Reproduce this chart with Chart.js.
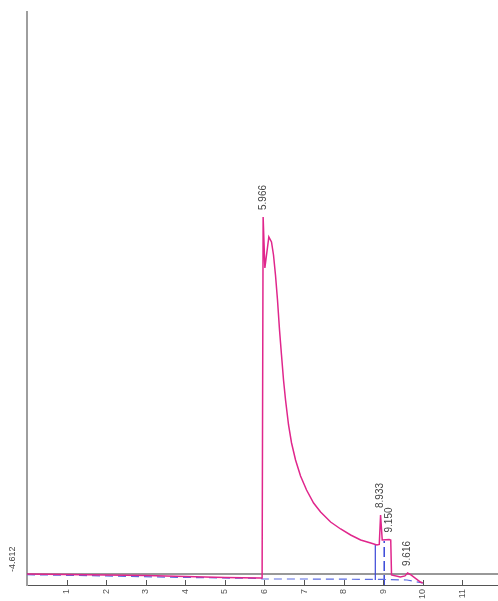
<!DOCTYPE html>
<html>
<head>
<meta charset="utf-8">
<script src="https://cdn.jsdelivr.net/npm/chart.js@4.4.1/dist/chart.umd.min.js"></script>
<style>
  html, body { margin: 0; padding: 0; background: #ffffff; }
  #wrap { width: 498px; height: 601px; }
</style>
</head>
<body>
<div id="wrap"><canvas id="chrom"></canvas></div>
<script>
// Retention time axis (min) and detector signal (mV)
const xTicks = [1, 2, 3, 4, 5, 6, 7, 8, 9, 10, 11];
const yMin = -6.812;
const yMax = 107.788;
const baselineLevel = -4.612;

// Main signal trace
const signalTime = [0, 1, 2, 3, 4, 5, 5.9, 5.94, 5.966, 6.01, 6.11, 6.177, 6.228, 6.278, 6.329, 6.38, 6.43, 6.481, 6.532, 6.608, 6.684, 6.785, 6.911, 7.063, 7.241, 7.418, 7.671, 7.924, 8.177, 8.43, 8.684, 8.84, 8.9, 8.933, 8.975, 9.15, 9.19, 9.21, 9.43, 9.55, 9.616, 9.7, 9.94, 10.0];
const signalValue = [-4.61, -4.71, -4.81, -4.91, -5.11, -5.31, -5.41, -5.41, 66.79, 56.59, 62.79, 61.79, 59.19, 55.19, 50.19, 44.19, 39.19, 34.19, 30.19, 25.19, 21.59, 18.19, 14.99, 12.19, 9.59, 7.79, 5.79, 4.39, 3.19, 2.19, 1.59, 1.19, 1.3, 7.19, 2.19, 2.29, 2.19, -4.81, -5.21, -5.0, -4.41, -4.8, -6.21, -6.41];

// Integration baseline
const baseTime = [0, 2, 4, 5.9, 5.95, 7, 8, 9, 9.6, 10.0];
const baseValue = [-4.75, -5.0, -5.3, -5.5, -5.61, -5.61, -5.65, -5.7, -5.81, -6.41];

// Peak boundary markers
const markStartTime = [8.8, 8.8];
const markStartValue = [-5.81, 1.25];
const markEndTime = [9.025, 9.025];
const markEndValue = [-6.81, 1.99];

// Labelled peaks (retention times)
const peakTimes = [5.966, 8.933, 9.150, 9.616];
const peakNames = ['5.966', '8.933', '9.150', '9.616'];

const toPoints = (xs, ys) => xs.map((x, i) => ({ x: x, y: ys[i] }));

const annotate = {
  id: 'annotate',
  afterDatasetsDraw(chart) {
    const ctx = chart.ctx;
    const xs = chart.scales.x;
    const ys = chart.scales.y;
    const area = chart.chartArea;
    ctx.save();
    // inward tick marks on the time axis
    ctx.strokeStyle = '#555555';
    ctx.lineWidth = 1;
    xTicks.forEach(t => {
      const px = Math.round(xs.getPixelForValue(t)) + 0.5;
      ctx.beginPath();
      ctx.moveTo(px, area.bottom);
      ctx.lineTo(px, area.bottom - 5);
      ctx.stroke();
    });
    // retention time labels above the peaks
    ctx.fillStyle = '#444444';
    ctx.font = '10px "Liberation Sans", Arial, sans-serif';
    ctx.textAlign = 'left';
    ctx.textBaseline = 'middle';
    peakTimes.forEach((t, i) => {
      const idx = signalTime.indexOf(t);
      const px = xs.getPixelForValue(t);
      const py = ys.getPixelForValue(signalValue[idx]) - 7;
      ctx.save();
      ctx.translate(px, py);
      ctx.rotate(-Math.PI / 2);
      ctx.fillText(peakNames[i], 0, 0);
      ctx.restore();
    });
    // lower limit of the signal axis
    ctx.font = '9px "Liberation Sans", Arial, sans-serif';
    ctx.save();
    ctx.translate(13, ys.getPixelForValue(baselineLevel) - 2);
    ctx.rotate(-Math.PI / 2);
    ctx.fillText(String(baselineLevel), 0, 0);
    ctx.restore();
    ctx.restore();
  }
};

new Chart(document.getElementById('chrom'), {
  type: 'scatter',
  data: {
    datasets: [
      {
        label: 'Signal',
        data: toPoints(signalTime, signalValue),
        showLine: true,
        borderColor: '#e0268c',
        borderWidth: 1.5,
        pointRadius: 0,
        tension: 0,
        order: 0
      },
      {
        label: 'Baseline',
        data: toPoints(baseTime, baseValue),
        showLine: true,
        borderColor: '#5b6be0',
        borderWidth: 1.2,
        borderDash: [8, 5],
        pointRadius: 0,
        order: 1
      },
      {
        label: 'Peak start',
        data: toPoints(markStartTime, markStartValue),
        showLine: true,
        borderColor: '#3a48d8',
        borderWidth: 1.2,
        pointRadius: 0,
        order: 2
      },
      {
        label: 'Peak end',
        data: toPoints(markEndTime, markEndValue),
        showLine: true,
        borderColor: '#3a48d8',
        borderWidth: 1.5,
        borderDash: [10, 4],
        pointRadius: 0,
        order: 2
      },
      {
        label: 'Zero',
        data: toPoints([0, 11.9], [baselineLevel, baselineLevel]),
        showLine: true,
        borderColor: '#333333',
        borderWidth: 1,
        pointRadius: 0,
        order: 3
      }
    ]
  },
  options: {
    responsive: true,
    maintainAspectRatio: false,
    animation: false,
    layout: { padding: { top: 12, right: 0, bottom: 0, left: 0 } },
    plugins: {
      legend: { display: false },
      tooltip: { enabled: false }
    },
    scales: {
      x: {
        type: 'linear',
        min: 0,
        max: 11.9,
        afterBuildTicks: s => { s.ticks = xTicks.map(v => ({ value: v })); },
        afterFit: s => { s.height = 16; },
        grid: { display: false, drawTicks: false },
        border: { display: true, color: '#555555', width: 1 },
        ticks: {
          autoSkip: false,
          minRotation: 90,
          maxRotation: 90,
          padding: 4,
          color: '#555555',
          font: { size: 9, family: '"Liberation Sans", Arial, sans-serif' }
        }
      },
      y: {
        type: 'linear',
        min: yMin,
        max: yMax,
        afterFit: s => { s.width = 27; },
        grid: { display: false, drawTicks: false },
        border: { display: true, color: '#9e9e9e', width: 2 },
        ticks: { display: false }
      }
    }
  },
  plugins: [annotate]
});
</script>
</body>
</html>
